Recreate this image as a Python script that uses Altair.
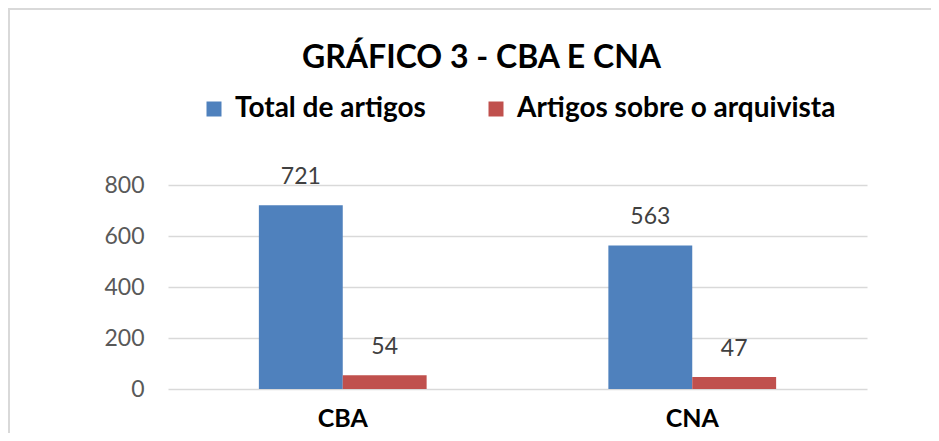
import altair as alt
import pandas as pd

grupos = ["CBA", "CBA", "CNA", "CNA"]
series = ["Total de artigos", "Artigos sobre o arquivista",
          "Total de artigos", "Artigos sobre o arquivista"]
valores = [721, 54, 563, 47]
ordem_series = ["Total de artigos", "Artigos sobre o arquivista"]
cores = ["#4F81BD", "#C0504D"]
y_ticks = [0, 200, 400, 600, 800]

df = pd.DataFrame({"grupo": grupos, "serie": series, "valor": valores})

FONT = "Lato"

base = alt.Chart(df).encode(
    x=alt.X("grupo:N",
            scale=alt.Scale(paddingInner=0.52, paddingOuter=0.26),
            axis=alt.Axis(title=None, labelAngle=0, labelFont=FONT, labelFontSize=25,
                          labelFontWeight="bold", labelColor="#000000",
                          labelBaseline="alphabetic",
                          ticks=False, domain=False, labelPadding=37)),
    xOffset=alt.XOffset("serie:N", sort=ordem_series),
    y=alt.Y("valor:Q",
            scale=alt.Scale(domain=[0, 800]),
            axis=alt.Axis(title=None, values=y_ticks, labelFont=FONT, labelFontSize=23,
                          labelColor="#595959", ticks=False, domain=False,
                          labelPadding=24, gridColor="#D9D9D9", gridWidth=1.5)),
)

bars = base.mark_bar().encode(
    color=alt.Color("serie:N", sort=ordem_series,
                    scale=alt.Scale(domain=ordem_series, range=cores),
                    legend=alt.Legend(title=None, orient="none", direction="horizontal",
                                      legendX=32, legendY=-90, padding=0,
                                      symbolType="square", symbolSize=225,
                                      symbolStrokeWidth=0, labelFont=FONT,
                                      labelFontSize=28, labelFontWeight="bold",
                                      labelColor="#000000", labelOffset=7,
                                      columnPadding=56, labelLimit=500))
)

labels = base.mark_text(dy=-28, baseline="middle", font=FONT, fontSize=23,
                        color="#404040").encode(text="valor:Q")

border_top = alt.Chart(df).mark_rule(color="#D9D9D9", strokeWidth=2).encode(
    x=alt.value(-160), x2=alt.value(763), y=alt.value(-176))
border_left = alt.Chart(df).mark_rule(color="#D9D9D9", strokeWidth=2).encode(
    x=alt.value(-159), y=alt.value(-176), y2=alt.value(300))

chart = alt.layer(bars, labels, border_top, border_left).properties(
    width=699, height=204,
    autosize=alt.AutoSizeParams(type="none"),
    padding={"left": 160, "top": 177, "right": 64, "bottom": 44},
    title=alt.TitleParams("GRÁFICO 3 - CBA E CNA", font=FONT, fontSize=32,
                          fontWeight="bold", color="#000000", anchor="middle",
                          baseline="alphabetic", dx=-36, dy=92, offset=0),
).configure_view(stroke=None)

chart.save("out.html", embed_options={"renderer": "svg", "actions": False})
